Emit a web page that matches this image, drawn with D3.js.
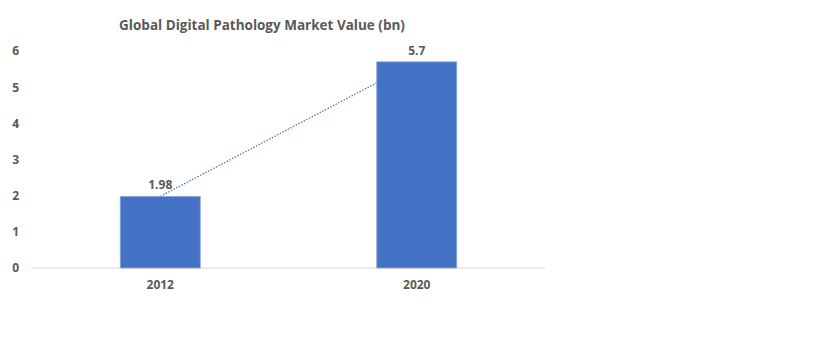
<!DOCTYPE html>
<html lang="en">
<head>
  <meta charset="utf-8">
  <title>Global Digital Pathology Market Value</title>
  <script src="https://d3js.org/d3.v7.js"></script>
  <style>
    body { margin: 0; background: #fff; }
    text { font-family: "Open Sans", sans-serif; fill: #595959; font-weight: bold; }
  </style>
</head>
<body>
  <div id="my_dataviz"></div>
  <script>
    // Data
    var years = ["2012", "2020"];
    var values = [1.98, 5.7];
    var valueLabels = ["1.98", "5.7"];
    var yTicks = [0, 1, 2, 3, 4, 5, 6];

    var W = 824, H = 346;
    var svg = d3.select("#my_dataviz")
      .append("svg")
      .attr("width", W)
      .attr("height", H);

    // scales
    var x = d3.scaleBand()
      .domain(years)
      .range([32, 545])
      .paddingInner(0.688)
      .paddingOuter(0.344);

    var y = d3.scaleLinear()
      .domain([0, 6])
      .range([268, 51]);

    // title
    svg.append("text")
      .attr("x", 262)
      .attr("y", 30)
      .attr("text-anchor", "middle")
      .style("font-size", "13.5px")
      .text("Global Digital Pathology Market Value (bn)");

    // y axis labels only
    var yAxis = svg.append("g")
      .attr("transform", "translate(19,0)")
      .call(d3.axisLeft(y).tickValues(yTicks).tickSize(0).tickPadding(0).tickFormat(d3.format("d")));
    yAxis.select(".domain").remove();
    yAxis.selectAll("text").style("font-size", "12px").attr("fill", "#595959").style("font-family", "Open Sans");

    // baseline
    svg.append("line")
      .attr("x1", 32).attr("x2", 545)
      .attr("y1", y(0)).attr("y2", y(0))
      .attr("stroke", "#d9d9d9")
      .attr("stroke-width", 1);

    // x axis labels
    var xAxis = svg.append("g")
      .attr("transform", "translate(0," + (y(0) + 12) + ")")
      .call(d3.axisBottom(x).tickSize(0).tickPadding(0));
    xAxis.select(".domain").remove();
    xAxis.selectAll("text").style("font-size", "12px").attr("fill", "#595959").style("font-family", "Open Sans");

    // dotted trend line (behind bars)
    var line = d3.line()
      .x(function(d, i) { return x(years[i]) + x.bandwidth() / 2; })
      .y(function(d) { return y(d); });
    svg.append("path")
      .datum(values)
      .attr("d", line)
      .attr("fill", "none")
      .attr("stroke", "#4472c4")
      .attr("stroke-width", 1.2)
      .attr("stroke-dasharray", "1.5,1.5");

    // bars
    svg.selectAll("rect.bar")
      .data(values)
      .enter()
      .append("rect")
      .attr("class", "bar")
      .attr("x", function(d, i) { return x(years[i]); })
      .attr("y", function(d) { return y(d); })
      .attr("width", x.bandwidth())
      .attr("height", function(d) { return y(0) - y(d); })
      .attr("fill", "#4472c4")
      .attr("stroke", "#8faadc")
      .attr("stroke-width", 0.8);

    // value labels
    svg.selectAll("text.val")
      .data(values)
      .enter()
      .append("text")
      .attr("class", "val")
      .attr("x", function(d, i) { return x(years[i]) + x.bandwidth() / 2; })
      .attr("y", function(d) { return y(d) - 7; })
      .attr("text-anchor", "middle")
      .style("font-size", "12px")
      .text(function(d, i) { return valueLabels[i]; });
  </script>
</body>
</html>
